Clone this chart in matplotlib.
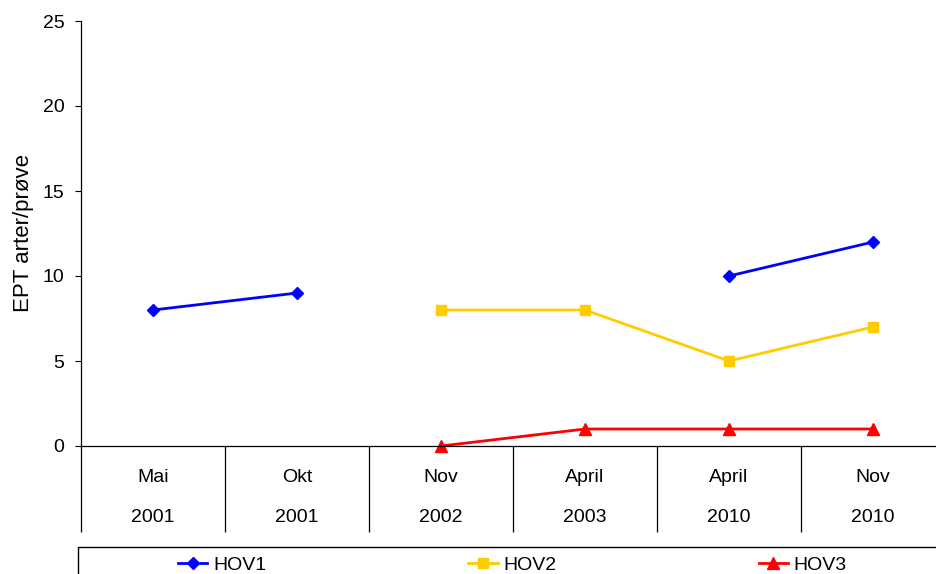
import numpy as np
import matplotlib
matplotlib.use('Agg')
import matplotlib.pyplot as plt
from matplotlib.patches import Rectangle
from matplotlib.transforms import blended_transform_factory

plt.rcParams['font.family'] = ['Liberation Sans', 'DejaVu Sans']

# ===== DATA =====
months = ['Mai', 'Okt', 'Nov', 'April', 'April', 'Nov']
years = ['2001', '2001', '2002', '2003', '2010', '2010']
hov1 = [8, 9, np.nan, np.nan, 10, 12]
hov2 = [np.nan, np.nan, 8, 8, 5, 7]
hov3 = [np.nan, np.nan, 0, 1, 1, 1]
y_ticks = [0, 5, 10, 15, 20, 25]

W, H = 936, 574
fig = plt.figure(figsize=(W / 100, H / 100), dpi=100)
# plot area runs a bit past the right edge, like the source
ax = fig.add_axes([81 / W, (H - 446) / H, 864 / W, 425 / H])

x = np.arange(len(months))
ax.plot(x, hov1, color='#0000FF', lw=2, marker='D', ms=6.5, label='HOV1')
ax.plot(x, hov2, color='#FFCC00', lw=2, marker='s', ms=7.5, label='HOV2')
ax.plot(x, hov3, color='#FF0000', lw=2, marker='^', ms=8.5, label='HOV3', clip_on=False)

ax.set_xlim(-0.5, len(months) - 0.5)
ax.set_ylim(0, 25)
ax.set_yticks(y_ticks)
ax.tick_params(axis='y', direction='out', length=4, width=0.8, pad=8, labelsize=14)
ax.set_ylabel('EPT arter/prøve', fontsize=16, labelpad=6)

for s in ['top', 'right']:
    ax.spines[s].set_visible(False)
ax.spines['left'].set_linewidth(0.9)
ax.spines['bottom'].set_linewidth(0.9)

# category separators under the axis
ax.set_xticks(np.arange(len(months) + 1) - 0.5)
ax.set_xticklabels([])
ax.tick_params(axis='x', direction='out', length=62, width=0.9)

# two-level category labels
tr = blended_transform_factory(ax.transData, fig.transFigure)
for i in range(len(months)):
    ax.text(x[i], 1 - 477 / H, months[i], transform=tr, ha='center', va='center', fontsize=14)
    ax.text(x[i], 1 - 518 / H, years[i], transform=tr, ha='center', va='center', fontsize=14)

# legend box (runs off the bottom/right like the source)
fig.patches.append(Rectangle((78 / W, -0.1), 0.99, 1 - 547 / H + 0.1, transform=fig.transFigure,
                             fill=False, edgecolor='black', linewidth=1.0))
fig.legend(loc='upper left', bbox_to_anchor=(178 / W, 1 - 556 / H), ncol=3, frameon=False,
           fontsize=14, handlelength=1.5, handletextpad=0.3, columnspacing=10.4,
           borderpad=0, borderaxespad=0)

fig.savefig('out.png', dpi=100)
